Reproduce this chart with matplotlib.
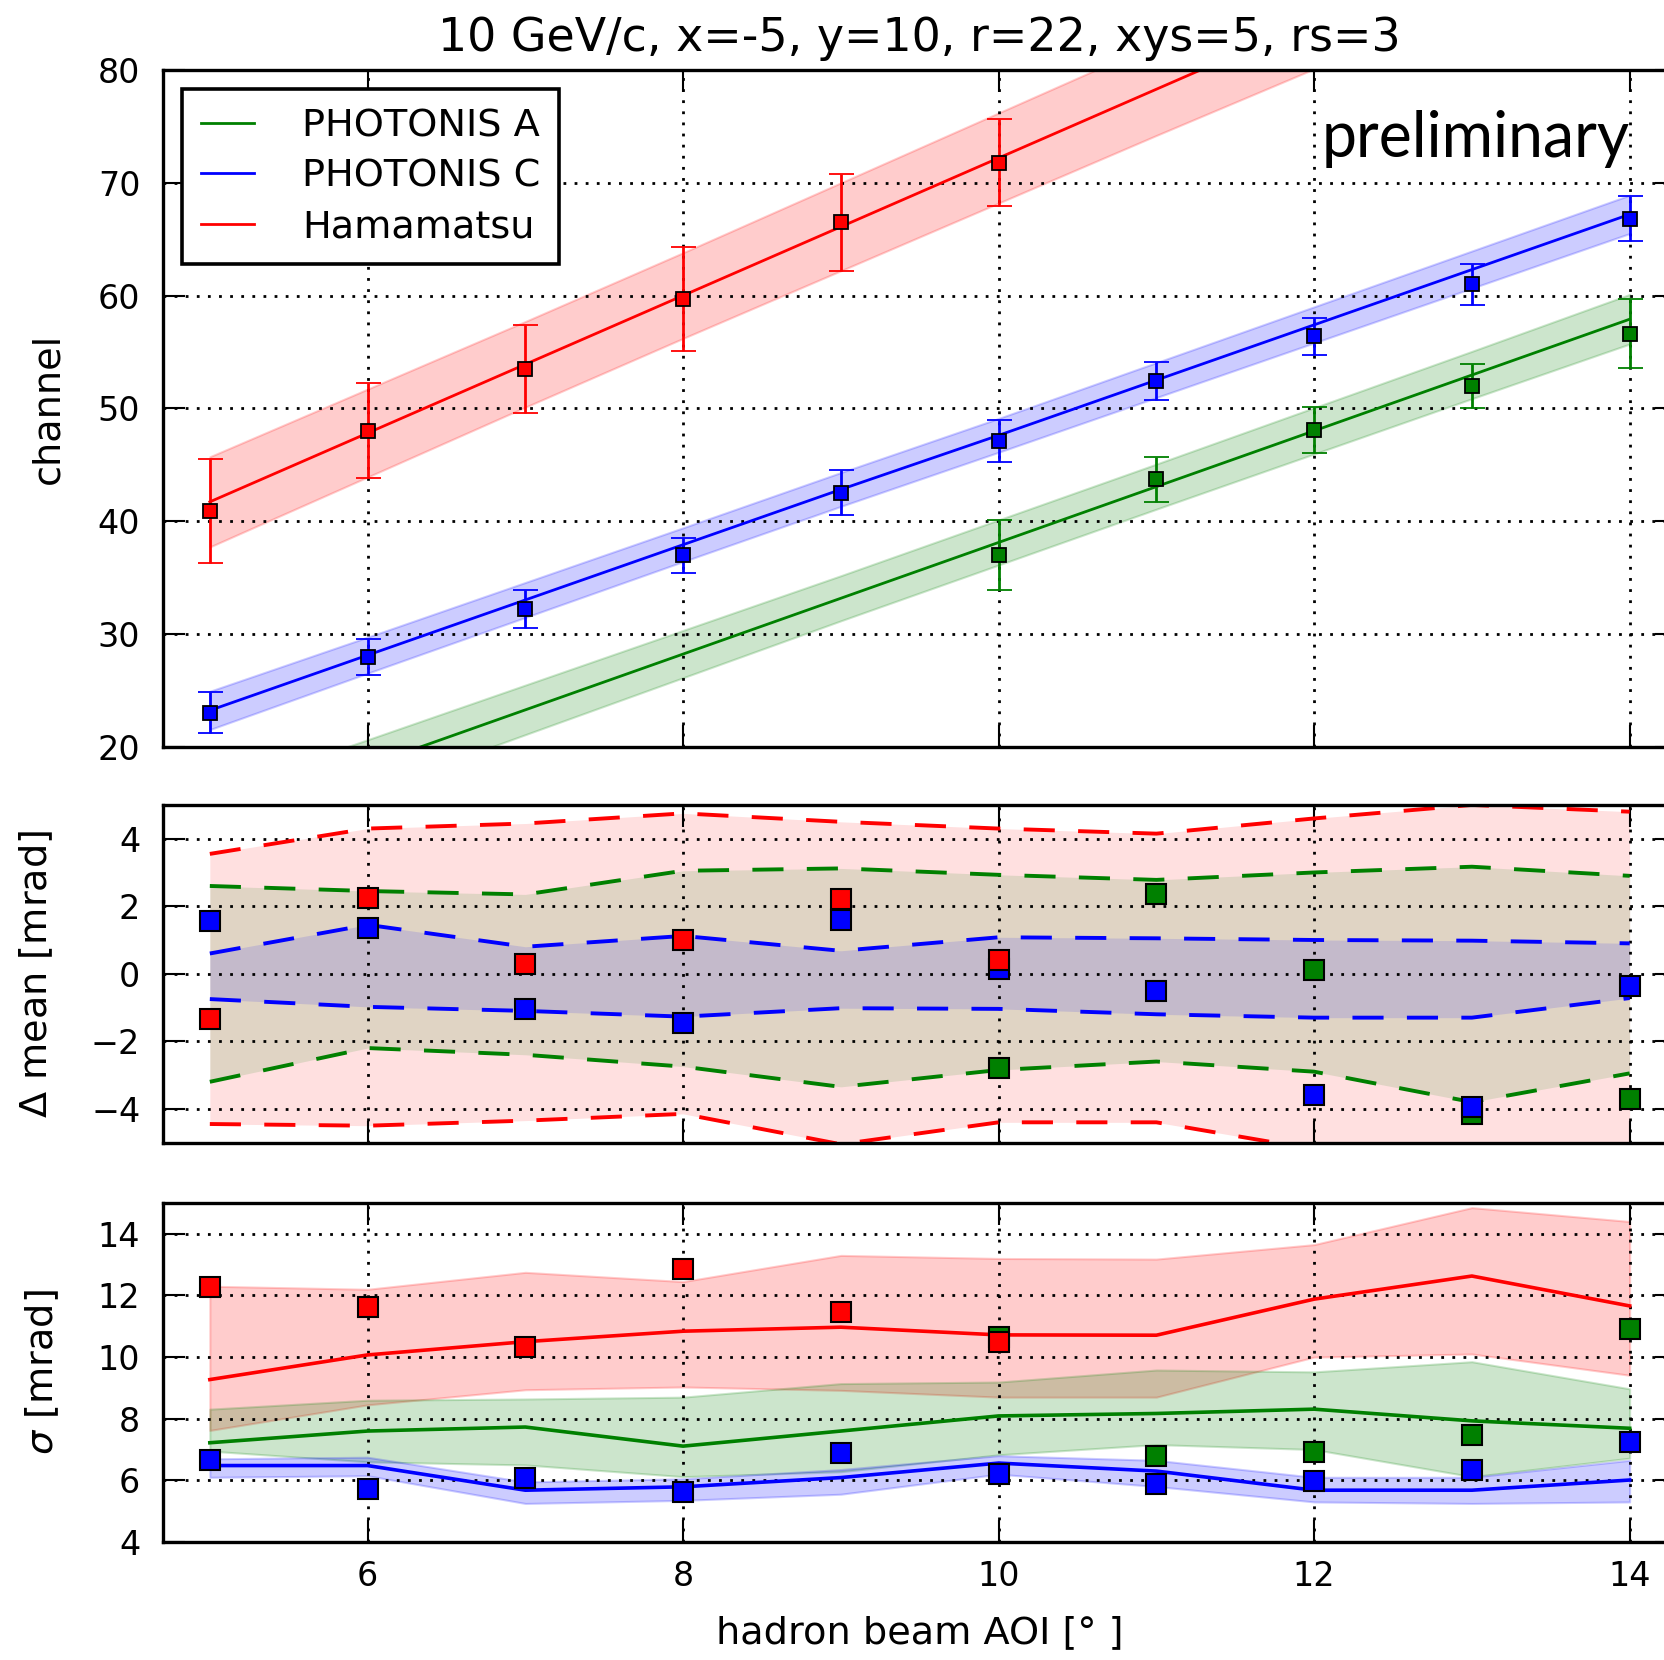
import matplotlib
matplotlib.use("Agg")
import matplotlib.pyplot as plt
import numpy as np

# ---------------- data ----------------
angles = [5, 6, 7, 8, 9, 10, 11, 12, 13, 14]
series_names = ["PHOTONIS A", "PHOTONIS C", "Hamamatsu"]
series_colors = ["g", "b", "r"]

# top panel: channel vs angle (points, errors) and fit lines / bands
ch_red_x = [5, 6, 7, 8, 9, 10]
ch_red = [40.9, 48.0, 53.5, 59.7, 66.5, 71.8]
ch_red_err = [4.6, 4.2, 3.9, 4.6, 4.3, 3.9]
ch_blue_x = [5, 6, 7, 8, 9, 10, 11, 12, 13, 14]
ch_blue = [23.0, 27.9, 32.2, 36.95, 42.5, 47.1, 52.4, 56.4, 61.0, 66.8]
ch_blue_err = [1.8, 1.6, 1.7, 1.55, 2.0, 1.85, 1.7, 1.65, 1.8, 2.0]
ch_green_x = [10, 11, 12, 13, 14]
ch_green = [36.95, 43.7, 48.1, 52.0, 56.6]
ch_green_err = [3.1, 2.0, 2.05, 1.95, 3.05]

fit_red = [41.7, 47.8, 53.9, 60.0, 66.1, 72.2, 78.3, 84.4, 90.5, 96.6]
fit_red_hw = [4.0, 3.9, 3.8, 3.8, 3.9, 4.0, 4.1, 4.3, 4.4, 4.5]
fit_blue = [23.2, 28.1, 33.0, 37.9, 42.8, 47.6, 52.5, 57.4, 62.3, 67.2]
fit_blue_hw = [1.7, 1.6, 1.55, 1.5, 1.5, 1.5, 1.55, 1.6, 1.65, 1.7]
fit_green = [13.4, 18.3, 23.25, 28.2, 33.15, 38.1, 43.05, 48.0, 52.95, 57.9]
fit_green_hw = [2.4, 2.3, 2.2, 2.1, 2.0, 2.0, 2.0, 2.05, 2.1, 2.2]

# middle panel: delta mean [mrad]
dm_red_x = [5, 6, 7, 8, 9, 10]
dm_red = [-1.35, 2.25, 0.3, 1.0, 2.2, 0.4]
dm_blue = [1.55, 1.35, -1.05, -1.45, 1.6, 0.15, -0.5, -3.6, -3.95, -0.35]
dm_green_x = [10, 11, 12, 13, 14]
dm_green = [-2.8, 2.35, 0.1, -4.15, -3.7]

dm_red_hi = [3.55, 4.3, 4.45, 4.75, 4.5, 4.3, 4.15, 4.6, 5.0, 4.8]
dm_red_lo = [-4.45, -4.5, -4.35, -4.15, -5.05, -4.4, -4.4, -5.2, -5.5, -5.3]
dm_green_hi = [2.6, 2.45, 2.35, 3.05, 3.12, 2.93, 2.78, 3.0, 3.17, 2.9]
dm_green_lo = [-3.2, -2.2, -2.4, -2.75, -3.35, -2.85, -2.6, -2.9, -3.8, -2.95]
dm_blue_hi = [0.6, 1.45, 0.8, 1.12, 0.68, 1.08, 1.05, 1.0, 0.98, 0.9]
dm_blue_lo = [-0.75, -0.98, -1.1, -1.27, -1.02, -1.04, -1.2, -1.3, -1.3, -0.72]

# bottom panel: sigma [mrad]
sg_red_x = [5, 6, 7, 8, 9, 10]
sg_red = [12.29, 11.61, 10.34, 12.85, 11.46, 10.48]
sg_blue = [6.67, 5.73, 6.09, 5.62, 6.89, 6.2, 5.87, 5.98, 6.34, 7.25]
sg_green_x = [10, 11, 12, 13, 14]
sg_green = [10.65, 6.78, 6.92, 7.46, 10.92]

sg_red_line = [9.27, 10.07, 10.5, 10.84, 10.97, 10.72, 10.71, 11.88, 12.63, 11.66]
sg_red_hi = [12.3, 12.2, 12.75, 12.45, 13.3, 13.2, 13.18, 13.65, 14.85, 14.4]
sg_red_lo = [7.62, 8.45, 8.94, 9.03, 8.92, 8.7, 8.7, 10.0, 10.1, 9.41]
sg_green_line = [7.22, 7.6, 7.73, 7.11, 7.6, 8.09, 8.17, 8.31, 7.93, 7.69]
sg_green_hi = [8.31, 8.6, 8.64, 8.7, 9.14, 9.19, 9.58, 9.52, 9.85, 8.97]
sg_green_lo = [6.95, 6.6, 6.5, 6.12, 6.28, 6.83, 7.16, 7.0, 6.12, 6.72]
sg_blue_line = [6.48, 6.48, 5.68, 5.79, 6.09, 6.56, 6.30, 5.68, 5.68, 6.01]
sg_blue_hi = [6.7, 6.75, 5.95, 6.05, 6.35, 6.8, 6.65, 6.1, 6.1, 6.65]
sg_blue_lo = [6.1, 6.15, 5.25, 5.35, 5.55, 6.2, 5.8, 5.3, 5.25, 5.3]

title = "10 GeV/c, x=-5, y=10, r=22, xys=5, rs=3"
xlabel = "hadron beam AOI [° ]"
ylabels = ["channel", r"$\Delta$ mean [mrad]", r"$\sigma$ [mrad]"]
x_ticks = [6, 8, 10, 12, 14]
y_ticks_top = [20, 30, 40, 50, 60, 70, 80]
y_ticks_mid = [-4, -2, 0, 2, 4]
y_ticks_bot = [4, 6, 8, 10, 12, 14]

# ---------------- style ----------------
plt.rcParams["font.family"] = ["DejaVu Sans"]
plt.rcParams["mathtext.fontset"] = "dejavusans"
TICK_FS = 24
LABEL_FS = 27.5

fig = plt.figure(figsize=(16.65, 16.60), dpi=100)
left, width = 0.0976, 0.9096
ax1 = fig.add_axes([left, 0.5503, width, 0.4075])
ax2 = fig.add_axes([left, 0.3117, width, 0.2034])
ax3 = fig.add_axes([left, 0.0711, width, 0.2042])

grid_kw = dict(color="k", linestyle=(0, (1, 3)), linewidth=2)

for ax in (ax1, ax2, ax3):
    ax.set_xlim(4.7, 14.3)
    ax.set_xticks(x_ticks)
    ax.tick_params(direction="in", length=16, width=1.5, top=True, right=True,
                   labelsize=TICK_FS, pad=16)
    ax.tick_params(axis="x", pad=13)
    for sp in ax.spines.values():
        sp.set_linewidth(2.4)
    ax.grid(True, **grid_kw)

a = np.array(angles, dtype=float)

# ---- top panel ----
fits = [(fit_green, fit_green_hw), (fit_blue, fit_blue_hw), (fit_red, fit_red_hw)]
pts = [(ch_green_x, ch_green, ch_green_err), (ch_blue_x, ch_blue, ch_blue_err),
       (ch_red_x, ch_red, ch_red_err)]
for (fl, hw), (px, py, pe), c, name in zip(fits, pts, series_colors, series_names):
    fl = np.array(fl); hw = np.array(hw)
    ax1.fill_between(a, fl - hw, fl + hw, color=c, alpha=0.2, lw=1.5)
    ax1.plot(a, fl, color=c, lw=2, label=name)
    ax1.errorbar(px, py, yerr=pe, fmt="s", color=c, mec="k", mew=1.3, ms=9.5,
                 elinewidth=2, capsize=9, capthick=2, zorder=4)
ax1.set_ylim(20, 80)
ax1.set_yticks(y_ticks_top)
ax1.tick_params(labelbottom=False)
ax1.set_title(title, fontsize=33, pad=14)
leg = ax1.legend(loc="upper left", fontsize=LABEL_FS, fancybox=False, framealpha=1,
                 edgecolor="k", borderaxespad=0.5, handlelength=1.4,
                 handletextpad=1.25, labelspacing=0.38, borderpad=0.5)
leg.get_frame().set_linewidth(2.6)
ax1.text(14.0, 72.3, "preliminary", fontsize=45, family="Lato", ha="right",
         va="baseline", color="k")

# ---- middle panel ----
dash = (0, (8, 6))
bands_mid = [(dm_red_lo, dm_red_hi, "r"), (dm_green_lo, dm_green_hi, "g"),
             (dm_blue_lo, dm_blue_hi, "b")]
for lo, hi, c in bands_mid:
    ax2.fill_between(a, lo, hi, color=c, alpha=0.12, lw=0)
for lo, hi, c in bands_mid:
    ax2.plot(a, hi, color=c, lw=2.8, linestyle=dash)
    ax2.plot(a, lo, color=c, lw=2.8, linestyle=dash)
ax2.plot(dm_green_x, dm_green, "s", color="g", mec="k", mew=1.5, ms=15, zorder=4)
ax2.plot(angles, dm_blue, "s", color="b", mec="k", mew=1.5, ms=15, zorder=4)
ax2.plot(dm_red_x, dm_red, "s", color="r", mec="k", mew=1.5, ms=15, zorder=4)
ax2.set_ylim(-5, 5)
ax2.set_yticks(y_ticks_mid)
ax2.tick_params(labelbottom=False)

# ---- bottom panel ----
bands_bot = [(sg_red_lo, sg_red_hi, sg_red_line, "r"),
             (sg_green_lo, sg_green_hi, sg_green_line, "g"),
             (sg_blue_lo, sg_blue_hi, sg_blue_line, "b")]
for lo, hi, ln, c in bands_bot:
    ax3.fill_between(a, lo, hi, color=c, alpha=0.2, lw=1.5)
    ax3.plot(a, ln, color=c, lw=2.6)
ax3.plot(sg_green_x, sg_green, "s", color="g", mec="k", mew=1.5, ms=15, zorder=4)
ax3.plot(angles, sg_blue, "s", color="b", mec="k", mew=1.5, ms=15, zorder=4)
ax3.plot(sg_red_x, sg_red, "s", color="r", mec="k", mew=1.5, ms=15, zorder=4)
ax3.set_ylim(4, 15)
ax3.set_yticks(y_ticks_bot)
ax3.set_xlabel(xlabel, fontsize=LABEL_FS, labelpad=16)

# y labels
for ax, lab, xc in zip((ax1, ax2, ax3), ylabels, (-0.0754, -0.0835, -0.0792)):
    ax.set_ylabel(lab, fontsize=LABEL_FS, va="center")
    ax.yaxis.set_label_coords(xc, 0.5)

fig.savefig("out.png", dpi=100, facecolor="white")
